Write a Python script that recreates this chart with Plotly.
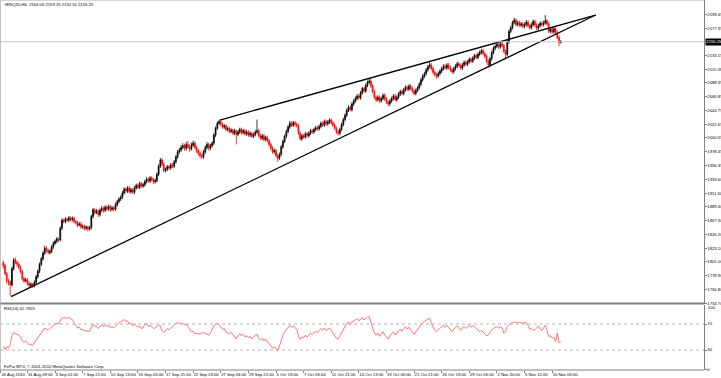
import plotly.graph_objects as go

# ---------------- data ----------------
opens = [
 1800, 1795, 1782, 1770, 1768, 1764, 1790, 1804, 1800, 1797,
 1792, 1785, 1774, 1770, 1772, 1766, 1763, 1765, 1762, 1768,
 1777, 1786, 1797, 1806, 1815, 1823, 1819, 1816, 1818, 1825,
 1831, 1834, 1838, 1836, 1855, 1868, 1866, 1870, 1868, 1872,
 1869, 1871, 1866, 1864, 1860, 1862, 1857, 1858, 1855, 1857,
 1854, 1856, 1874, 1885, 1880, 1883, 1877, 1884, 1887, 1884,
 1889, 1886, 1890, 1885, 1888, 1886, 1893, 1898, 1902, 1905,
 1912, 1918, 1915, 1920, 1914, 1917, 1913, 1920, 1924, 1921,
 1927, 1923, 1925, 1930, 1934, 1931, 1936, 1933, 1930, 1932,
 1942, 1955, 1965, 1958, 1948, 1950, 1954, 1952, 1957, 1955,
 1962, 1970, 1978, 1981, 1985, 1988, 1984, 1990, 1986, 1983,
 1989, 1992, 1985, 1980, 1976, 1972, 1970, 1978, 1985, 1990,
 1984, 1988, 1992, 2005, 2016, 2024, 2027, 2022, 2018, 2020,
 2014, 2016, 2011, 2013, 2008, 2012, 2006, 2010, 2014, 2009,
 2012, 2007, 2010, 2005, 2008, 2003, 2006, 2010, 2012, 2004,
 2000, 2004, 1998, 2001, 1996, 1990, 1984, 1978, 1980, 1972,
 1968, 1974, 1986, 1995, 2003, 2011, 2018, 2024, 2021, 2025,
 2022, 2020, 2008, 1999, 2004, 2002, 2007, 2004, 2008, 2012,
 2010, 2014, 2017, 2015, 2019, 2024, 2021, 2027, 2023, 2026,
 2029, 2025, 2021, 2016, 2010, 2008, 2014, 2022, 2030, 2037,
 2045, 2050, 2046, 2055, 2060, 2064, 2068, 2065, 2073, 2080,
 2076, 2085, 2090, 2092, 2084, 2075, 2066, 2062, 2066, 2060,
 2064, 2069, 2063, 2058, 2055, 2060, 2064, 2068, 2062, 2066,
 2071, 2075, 2072, 2078, 2082, 2079, 2084, 2080, 2076, 2072,
 2077, 2081, 2087, 2094, 2100, 2104, 2110, 2115, 2118, 2112,
 2106, 2102, 2100, 2104, 2108, 2112, 2116, 2113, 2118, 2114,
 2110, 2107, 2112, 2116, 2120, 2117, 2113, 2118, 2122, 2119,
 2123, 2127, 2124, 2129, 2133, 2130, 2135, 2138, 2141, 2136,
 2132, 2124, 2118, 2128, 2138, 2145, 2148, 2151, 2147, 2152,
 2149, 2140, 2135, 2155, 2172, 2178, 2186, 2190, 2183, 2186,
 2182, 2184, 2180, 2183, 2187, 2181, 2178, 2183, 2188, 2182,
 2177, 2181, 2185, 2183, 2186, 2189, 2184, 2172, 2176, 2171,
 2176, 2170, 2162, 2154,
]
highs = [
 1803, 1798, 1785, 1774, 1771, 1793, 1807, 1808, 1803, 1800,
 1795, 1788, 1777, 1775, 1775, 1769, 1768, 1767, 1771, 1780,
 1789, 1800, 1809, 1818, 1827, 1826, 1822, 1821, 1828, 1834,
 1837, 1841, 1840, 1858, 1871, 1871, 1873, 1872, 1875, 1874,
 1874, 1874, 1868, 1867, 1865, 1865, 1861, 1861, 1860, 1859,
 1859, 1877, 1888, 1887, 1886, 1885, 1887, 1891, 1890, 1892,
 1892, 1893, 1893, 1891, 1890, 1896, 1901, 1905, 1908, 1915,
 1921, 1921, 1923, 1923, 1920, 1920, 1923, 1927, 1927, 1930,
 1930, 1928, 1933, 1937, 1937, 1939, 1939, 1936, 1935, 1945,
 1958, 1968, 1968, 1961, 1953, 1957, 1957, 1960, 1960, 1965,
 1973, 1981, 1984, 1989, 1992, 1991, 1994, 1996, 1990, 1993,
 1996, 1995, 1988, 1983, 1979, 1975, 1981, 1988, 1994, 1993,
 1991, 1995, 2008, 2019, 2027, 2030, 2029, 2025, 2023, 2022,
 2019, 2018, 2016, 2015, 2015, 2014, 2013, 2017, 2017, 2015,
 2015, 2013, 2013, 2011, 2011, 2009, 2013, 2030, 2015, 2007,
 2007, 2007, 2004, 2004, 1999, 1993, 1987, 1983, 1983, 1975,
 1977, 1989, 1998, 2006, 2014, 2021, 2028, 2027, 2028, 2028,
 2025, 2023, 2011, 2007, 2007, 2010, 2010, 2011, 2015, 2015,
 2017, 2020, 2020, 2022, 2027, 2027, 2030, 2030, 2029, 2032,
 2032, 2028, 2024, 2019, 2013, 2017, 2025, 2033, 2040, 2048,
 2053, 2053, 2058, 2063, 2067, 2071, 2071, 2076, 2083, 2083,
 2088, 2093, 2096, 2095, 2087, 2078, 2069, 2069, 2069, 2067,
 2072, 2072, 2066, 2061, 2063, 2067, 2071, 2071, 2069, 2074,
 2078, 2078, 2081, 2085, 2085, 2087, 2087, 2083, 2079, 2080,
 2084, 2090, 2097, 2103, 2107, 2113, 2118, 2122, 2121, 2115,
 2109, 2105, 2107, 2111, 2115, 2119, 2119, 2121, 2121, 2117,
 2113, 2115, 2119, 2123, 2123, 2120, 2121, 2125, 2125, 2126,
 2130, 2130, 2132, 2136, 2136, 2138, 2141, 2144, 2144, 2139,
 2135, 2127, 2131, 2141, 2148, 2151, 2154, 2154, 2155, 2155,
 2152, 2143, 2158, 2175, 2181, 2189, 2194, 2193, 2189, 2189,
 2187, 2187, 2186, 2190, 2190, 2184, 2186, 2191, 2191, 2185,
 2184, 2188, 2188, 2189, 2198, 2192, 2187, 2179, 2179, 2179,
 2179, 2173, 2165, 2158,
]
lows = [
 1790, 1779, 1766, 1763, 1746, 1761, 1787, 1797, 1793, 1789,
 1782, 1771, 1767, 1768, 1763, 1760, 1760, 1759, 1760, 1765,
 1774, 1783, 1794, 1803, 1812, 1816, 1813, 1813, 1815, 1822,
 1828, 1831, 1833, 1834, 1852, 1863, 1863, 1865, 1865, 1866,
 1866, 1863, 1861, 1857, 1858, 1854, 1854, 1851, 1852, 1850,
 1851, 1853, 1871, 1877, 1878, 1873, 1874, 1881, 1880, 1881,
 1883, 1883, 1881, 1883, 1882, 1883, 1890, 1895, 1899, 1902,
 1909, 1912, 1912, 1911, 1911, 1910, 1910, 1917, 1918, 1918,
 1920, 1920, 1922, 1927, 1928, 1928, 1930, 1926, 1927, 1929,
 1939, 1952, 1955, 1945, 1945, 1947, 1949, 1949, 1952, 1952,
 1959, 1967, 1975, 1978, 1982, 1980, 1980, 1983, 1978, 1980,
 1986, 1982, 1976, 1972, 1968, 1966, 1967, 1975, 1982, 1980,
 1981, 1985, 1989, 2002, 2013, 2021, 2019, 2015, 2015, 2011,
 2011, 2008, 2008, 2005, 2005, 1990, 2003, 2007, 2006, 2006,
 2004, 2004, 2002, 2002, 2000, 2000, 2003, 2007, 2001, 1997,
 1997, 1995, 1995, 1993, 1987, 1981, 1975, 1975, 1969, 1962,
 1965, 1971, 1983, 1992, 2000, 2008, 2015, 2018, 2018, 2019,
 2017, 2005, 1996, 1996, 1999, 1999, 2001, 2001, 2005, 2007,
 2007, 2011, 2012, 2012, 2016, 2018, 2018, 2020, 2020, 2023,
 2022, 2018, 2013, 2007, 2004, 2005, 2011, 2019, 2027, 2034,
 2042, 2043, 2043, 2052, 2057, 2061, 2062, 2062, 2070, 2073,
 2073, 2082, 2087, 2081, 2072, 2063, 2058, 2059, 2057, 2057,
 2061, 2060, 2055, 2051, 2052, 2057, 2061, 2059, 2059, 2063,
 2068, 2069, 2069, 2075, 2076, 2076, 2077, 2073, 2069, 2069,
 2074, 2078, 2084, 2091, 2097, 2101, 2107, 2112, 2109, 2103,
 2099, 2096, 2097, 2101, 2105, 2109, 2110, 2110, 2111, 2107,
 2104, 2104, 2109, 2113, 2114, 2110, 2110, 2115, 2116, 2116,
 2120, 2121, 2121, 2126, 2127, 2127, 2132, 2135, 2133, 2129,
 2121, 2113, 2115, 2125, 2135, 2142, 2145, 2144, 2144, 2146,
 2137, 2128, 2132, 2152, 2169, 2175, 2183, 2180, 2180, 2179,
 2179, 2177, 2177, 2180, 2178, 2175, 2175, 2180, 2179, 2174,
 2174, 2178, 2180, 2180, 2183, 2181, 2169, 2169, 2168, 2168,
 2167, 2159, 2148, 2152.5,
]
closes = [
 1795, 1782, 1770, 1768, 1764, 1790, 1804, 1800, 1797, 1792,
 1785, 1774, 1770, 1772, 1766, 1763, 1765, 1762, 1768, 1777,
 1786, 1797, 1806, 1815, 1823, 1819, 1816, 1818, 1825, 1831,
 1834, 1838, 1836, 1855, 1868, 1866, 1870, 1868, 1872, 1869,
 1871, 1866, 1864, 1860, 1862, 1857, 1858, 1855, 1857, 1854,
 1856, 1874, 1885, 1880, 1883, 1877, 1884, 1887, 1884, 1889,
 1886, 1890, 1885, 1888, 1886, 1893, 1898, 1902, 1905, 1912,
 1918, 1915, 1920, 1914, 1917, 1913, 1920, 1924, 1921, 1927,
 1923, 1925, 1930, 1934, 1931, 1936, 1933, 1930, 1932, 1942,
 1955, 1965, 1958, 1948, 1950, 1954, 1952, 1957, 1955, 1962,
 1970, 1978, 1981, 1985, 1988, 1984, 1990, 1986, 1983, 1989,
 1992, 1985, 1980, 1976, 1972, 1970, 1978, 1985, 1990, 1984,
 1988, 1992, 2005, 2016, 2024, 2027, 2022, 2018, 2020, 2014,
 2016, 2011, 2013, 2008, 2012, 2006, 2010, 2014, 2009, 2012,
 2007, 2010, 2005, 2008, 2003, 2006, 2010, 2012, 2004, 2000,
 2004, 1998, 2001, 1996, 1990, 1984, 1978, 1980, 1972, 1968,
 1974, 1986, 1995, 2003, 2011, 2018, 2024, 2021, 2025, 2022,
 2020, 2008, 1999, 2004, 2002, 2007, 2004, 2008, 2012, 2010,
 2014, 2017, 2015, 2019, 2024, 2021, 2027, 2023, 2026, 2029,
 2025, 2021, 2016, 2010, 2008, 2014, 2022, 2030, 2037, 2045,
 2050, 2046, 2055, 2060, 2064, 2068, 2065, 2073, 2080, 2076,
 2085, 2090, 2092, 2084, 2075, 2066, 2062, 2066, 2060, 2064,
 2069, 2063, 2058, 2055, 2060, 2064, 2068, 2062, 2066, 2071,
 2075, 2072, 2078, 2082, 2079, 2084, 2080, 2076, 2072, 2077,
 2081, 2087, 2094, 2100, 2104, 2110, 2115, 2118, 2112, 2106,
 2102, 2100, 2104, 2108, 2112, 2116, 2113, 2118, 2114, 2110,
 2107, 2112, 2116, 2120, 2117, 2113, 2118, 2122, 2119, 2123,
 2127, 2124, 2129, 2133, 2130, 2135, 2138, 2141, 2136, 2132,
 2124, 2118, 2128, 2138, 2145, 2148, 2151, 2147, 2152, 2149,
 2140, 2135, 2155, 2172, 2178, 2186, 2190, 2183, 2186, 2182,
 2184, 2180, 2183, 2187, 2181, 2178, 2183, 2188, 2182, 2177,
 2181, 2185, 2183, 2186, 2189, 2184, 2172, 2176, 2171, 2176,
 2170, 2162, 2154, 2155.25,
]
rsi_values = [
 36, 31, 35, 33, 38, 52, 57, 55, 54, 53,
 50, 44, 42, 44, 40, 38, 39, 37, 41, 45,
 49, 52, 56, 60, 64, 62, 61, 63, 66, 68,
 70, 71, 70, 76, 80, 79, 80, 79, 80, 78,
 77, 72, 68, 64, 65, 61, 62, 59, 60, 58,
 59, 66, 70, 66, 67, 63, 67, 69, 66, 69,
 66, 68, 64, 66, 64, 67, 70, 72, 73, 75,
 77, 74, 75, 70, 71, 67, 70, 68, 65, 67,
 63, 64, 70, 71, 66, 68, 65, 63, 64, 66,
 68, 67, 60, 57, 60, 63, 61, 64, 66, 69,
 71, 72, 71, 70, 71, 69, 70, 66, 60, 58,
 59, 55, 56, 54, 56, 55, 57, 56, 54, 53,
 56, 62, 67, 70, 71, 69, 66, 62, 63, 58,
 56, 55, 57, 54, 50, 47, 52, 55, 52, 54,
 50, 52, 49, 51, 47, 50, 53, 54, 48, 45,
 48, 44, 47, 43, 40, 36, 33, 35, 31, 29,
 36, 46, 53, 58, 62, 66, 68, 65, 67, 64,
 62, 52, 46, 50, 49, 53, 50, 53, 56, 54,
 57, 59, 57, 60, 63, 60, 64, 60, 62, 64,
 60, 56, 52, 48, 47, 52, 58, 63, 67, 71,
 73, 69, 73, 75, 77, 78, 75, 78, 80, 76,
 79, 81, 81, 73, 64, 56, 53, 56, 51, 54,
 58, 53, 49, 47, 52, 55, 58, 53, 56, 59,
 62, 59, 63, 66, 62, 65, 61, 57, 54, 58,
 61, 65, 69, 72, 74, 76, 78, 79, 71, 64,
 60, 58, 61, 64, 66, 68, 65, 68, 64, 60,
 58, 62, 65, 67, 64, 60, 64, 66, 63, 66,
 68, 65, 67, 66, 63, 60,
 58, 60, 57, 55, 52, 53, 58, 61, 63, 65,
 66, 64, 66, 64, 56, 58, 66, 69, 71, 72,
 73, 72, 72, 73, 72, 71, 72, 72, 68, 62,
 63, 60, 61, 64, 67, 62, 60, 64, 68, 60,
 51, 52, 48, 50, 43, 56, 41, 42.76,
]
assert len(opens) == len(highs) == len(lows) == len(closes) == len(rsi_values)

bars = list(range(len(closes)))

time_labels = ["26 Aug 2010", "31 Aug 09:00", "3 Sep 01:00", "7 Sep 21:00", "10 Sep 13:00",
               "15 Sep 05:00", "17 Sep 21:00", "22 Sep 13:00", "27 Sep 05:00", "29 Sep 21:00",
               "4 Oct 13:00", "7 Oct 05:00", "11 Oct 21:00", "14 Oct 13:00", "19 Oct 05:00",
               "21 Oct 21:00", "26 Oct 13:00", "29 Oct 05:00", "2 Nov 20:00", "5 Nov 12:00",
               "10 Nov 05:00"]
time_label_bars = [-1.4, 14, 30, 46, 62, 78, 94, 110, 126, 142, 158, 174, 190, 206, 222,
                   238, 254, 270, 286, 302, 318]

price_ticks = [2199.45, 2177.35, 2133.15, 2111.05, 2088.95, 2066.85, 2044.75, 2022.65,
               2000.55, 1978.45, 1956.35, 1933.60, 1911.50, 1889.40, 1867.30, 1845.20,
               1823.10, 1801.00, 1778.90, 1756.80, 1734.70]
rsi_ticks = [70, 30, 0]
rsi_top_label = "100"
rsi_levels = [70, 30]

# trendlines drawn on the chart (bar index, price)
lower_line_x = [4.5, 343.2]
lower_line_y = [1745.0, 2198.3]
upper_line_x = [125.5, 343.2]
upper_line_y = [2029.3, 2198.3]

symbol_title = "#ENQZ0,H4  2154.00 2159.25 2152.50 2155.25"
rsi_title = "RSI(14) 42.7555"
copyright_text = "FxPro MT4, \u00a9 2001-2010 MetaQuotes Software Corp."

# ---------------- figure ----------------
FONT = "Liberation Sans, Arial, sans-serif"
FS = 4.2
H_PLOT = 370.0
main_bottom = 1 - 303.5 / H_PLOT
rsi_top = 1 - 304.5 / H_PLOT

fig = go.Figure()
fig.add_trace(go.Candlestick(
    x=bars, open=opens, high=highs, low=lows, close=closes,
    increasing=dict(line=dict(color="#000000", width=0.8), fillcolor="#000000"),
    decreasing=dict(line=dict(color="#ff0000", width=0.8), fillcolor="#ff0000"),
    whiskerwidth=0, xaxis="x", yaxis="y", showlegend=False, hoverinfo="skip",
))
fig.add_trace(go.Scatter(x=lower_line_x, y=lower_line_y, mode="lines",
                         line=dict(color="#000000", width=1.3), xaxis="x", yaxis="y",
                         showlegend=False, hoverinfo="skip"))
fig.add_trace(go.Scatter(x=upper_line_x, y=upper_line_y, mode="lines",
                         line=dict(color="#000000", width=1.3), xaxis="x", yaxis="y",
                         showlegend=False, hoverinfo="skip"))
fig.add_trace(go.Scatter(x=bars, y=rsi_values, mode="lines",
                         line=dict(color="#ff6464", width=0.9), xaxis="x", yaxis="y2",
                         showlegend=False, hoverinfo="skip"))

shapes = []
# bid line
shapes.append(dict(type="line", xref="paper", yref="y", x0=0, x1=1,
                   y0=closes[-1], y1=closes[-1], line=dict(color="#c8c8c8", width=1)))
for lv in rsi_levels:
    shapes.append(dict(type="line", xref="paper", yref="y2", x0=0, x1=1, y0=lv, y1=lv,
                       line=dict(color="#b4b4b4", width=1, dash="dot")))
# frame / separators
shapes.append(dict(type="line", xref="paper", yref="paper", x0=0, x1=1,
                   y0=main_bottom, y1=main_bottom, line=dict(color="#808080", width=2)))
shapes.append(dict(type="line", xref="paper", yref="paper", x0=0, x1=1, y0=1, y1=1,
                   line=dict(color="#b0b0b0", width=1)))
shapes.append(dict(type="line", xref="paper", yref="paper", x0=0, x1=0, y0=0, y1=1,
                   line=dict(color="#b0b0b0", width=1.5)))
shapes.append(dict(type="line", xref="paper", yref="paper", x0=0, x1=1, y0=0, y1=0,
                   line=dict(color="#808080", width=1)))

small = dict(family=FONT, size=FS, color="#000000")
annotations = [
    dict(text=symbol_title, xref="paper", yref="paper", x=0.003, y=1 - 4.7 / H_PLOT,
         xanchor="left", yanchor="middle", showarrow=False, font=small),
    dict(text=rsi_title, xref="paper", yref="paper", x=0.003, y=1 - 308.5 / H_PLOT,
         xanchor="left", yanchor="middle", showarrow=False, font=small),
    dict(text=copyright_text, xref="paper", yref="paper", x=0.003, y=1 - 366.8 / H_PLOT,
         xanchor="left", yanchor="middle", showarrow=False, font=small),
    dict(text=rsi_top_label, xref="paper", yref="paper", x=1.0, xshift=1.5,
         y=1 - 307.0 / H_PLOT, xanchor="left", yanchor="middle", showarrow=False, font=small),
    dict(text=f"{closes[-1]:.2f}", xref="paper", yref="y", x=1.0, xshift=0.5, y=closes[-1],
         xanchor="left", yanchor="middle", showarrow=False, bgcolor="#000000",
         borderpad=0.3, font=dict(family=FONT, size=FS, color="#ffffff")),
]

fig.update_layout(
    width=721, height=378, margin=dict(l=0, r=17, t=0, b=8),
    paper_bgcolor="#ffffff", plot_bgcolor="#ffffff", template="none",
    showlegend=False, shapes=shapes, annotations=annotations,
    xaxis=dict(range=[-1.91, 405.97], anchor="y2", showgrid=False, zeroline=False,
               tickmode="array", tickvals=time_label_bars, ticktext=time_labels,
               tickangle=0, ticks="outside", ticklen=2, tickcolor="#808080", tickfont=small,
               ticklabelposition="outside right", showline=False, automargin=False,
               rangeslider=dict(visible=False)),
    yaxis=dict(domain=[main_bottom, 1], range=[1733.95, 2222.47], side="right", anchor="x",
               showgrid=False, zeroline=False, tickmode="array", tickvals=price_ticks,
               ticktext=[f"{v:.2f}" for v in price_ticks], ticks="outside", ticklen=1.5,
               tickcolor="#808080", tickfont=small, showline=True, linecolor="#808080",
               linewidth=1, automargin=False),
    yaxis2=dict(domain=[0, rsi_top], range=[-0.77, 100], side="right", anchor="x",
                showgrid=False, zeroline=False, tickmode="array", tickvals=rsi_ticks,
                ticktext=[str(v) for v in rsi_ticks], ticks="outside", ticklen=1.5,
                tickcolor="#808080", tickfont=small, showline=True, linecolor="#808080",
                linewidth=1, automargin=False),
)

fig.write_html("out.html")
